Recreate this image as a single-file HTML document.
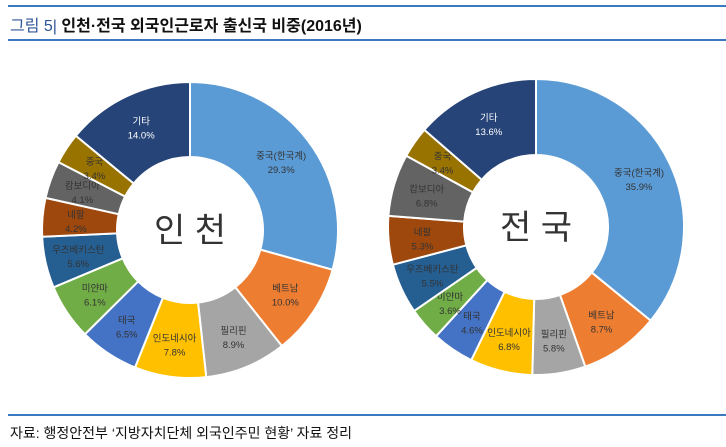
<!DOCTYPE html>
<html><head><meta charset="utf-8"><style>
body{margin:0;width:726px;height:447px;background:#fff;font-family:"Liberation Sans","Noto Sans CJK KR",sans-serif;overflow:hidden;position:relative}
.hl{position:absolute;left:8px;right:0;height:2px;background:#3a78c0}
#title{position:absolute;left:10px;top:12px;font-size:16px;font-weight:bold;color:#111;white-space:nowrap}
#title span{color:#2f5597;font-weight:normal}
#src{position:absolute;left:10px;top:423px;font-size:14px;color:#111;white-space:nowrap}
svg{position:absolute;left:0;top:0}
</style></head><body>
<div class="hl" style="top:5px"></div>
<div id="title"><span>그림 5|</span> 인천·전국 외국인근로자 출신국 비중(2016년)</div>
<div class="hl" style="top:39px"></div>
<div class="hl" style="top:414px;height:1.5px"></div>
<div id="src">자료: 행정안전부 ‘지방자치단체 외국인주민 현황’ 자료 정리</div>
<svg id="chart" width="726" height="447"></svg>
<script>
const categories=["중국(한국계)","베트남","필리핀","인도네시아","태국","미얀마","우즈베키스탄","네팔","캄보디아","중국","기타"];
const incheonValues=[29.3,10.0,8.9,7.8,6.5,6.1,5.6,4.2,4.1,3.4,14.0];
const nationalValues=[35.9,8.7,5.8,6.8,4.6,3.6,5.5,5.3,6.8,3.4,13.6];
const centerLabels=["인 천","전 국"];
const colors=["#5B9BD5","#ED7D31","#A5A5A5","#FFC000","#4472C4","#70AD47","#255E91","#9E480E","#636363","#997300","#264478"];
const NS="http://www.w3.org/2000/svg";
const svg=document.getElementById('chart');
function pt(cx,cy,r,a){return [cx+r*Math.sin(a),cy-r*Math.cos(a)];}
function donut(vals,cx,cy,ro,ri,label,key){
  const g=document.createElementNS(NS,'g');
  
  
  svg.appendChild(g);
  const tot=vals.reduce((a,b)=>a+b,0);
  let a0=0;
  vals.forEach((v,i)=>{
    const a1=a0+v/tot*2*Math.PI;
    const [x1,y1]=pt(cx,cy,ro,a0),[x2,y2]=pt(cx,cy,ro,a1),[x3,y3]=pt(cx,cy,ri,a1),[x4,y4]=pt(cx,cy,ri,a0);
    const lg=(a1-a0)>Math.PI?1:0;
    const p=document.createElementNS(NS,'path');
    p.setAttribute('d',`M${x1},${y1}A${ro},${ro} 0 ${lg} 1 ${x2},${y2}L${x3},${y3}A${ri},${ri} 0 ${lg} 0 ${x4},${y4}Z`);
    p.setAttribute('fill',colors[i]);p.setAttribute('stroke','#fff');p.setAttribute('stroke-width','2');
    
    
    g.appendChild(p);
    const am=(a0+a1)/2,[lx,ly]=pt(cx,cy,(ro+ri)/2+4,am);
    const t=document.createElementNS(NS,'text');
    t.setAttribute('x',lx);t.setAttribute('y',ly-2);t.setAttribute('text-anchor','middle');
    t.setAttribute('font-size','9.5');t.setAttribute('fill',i==10?'#fff':'#333');
    
    
    const s1=document.createElementNS(NS,'tspan');s1.setAttribute('x',lx);s1.textContent=categories[i];
    const s2=document.createElementNS(NS,'tspan');s2.setAttribute('x',lx);s2.setAttribute('dy','14');s2.textContent=v.toFixed(1)+'%';
    t.appendChild(s1);t.appendChild(s2);g.appendChild(t);
    a0=a1;
  });
  const c=document.createElementNS(NS,'text');
  c.setAttribute('x',cx);c.setAttribute('y',cy+12);c.setAttribute('text-anchor','middle');
  c.setAttribute('font-size','34');c.setAttribute('fill','#333');
  
  
  c.textContent=label;g.appendChild(c);
}
donut(incheonValues,190,230,148,73,centerLabels[0],'incheon');
donut(nationalValues,536,227,148,72,centerLabels[1],'national');
</script>
</body></html>
